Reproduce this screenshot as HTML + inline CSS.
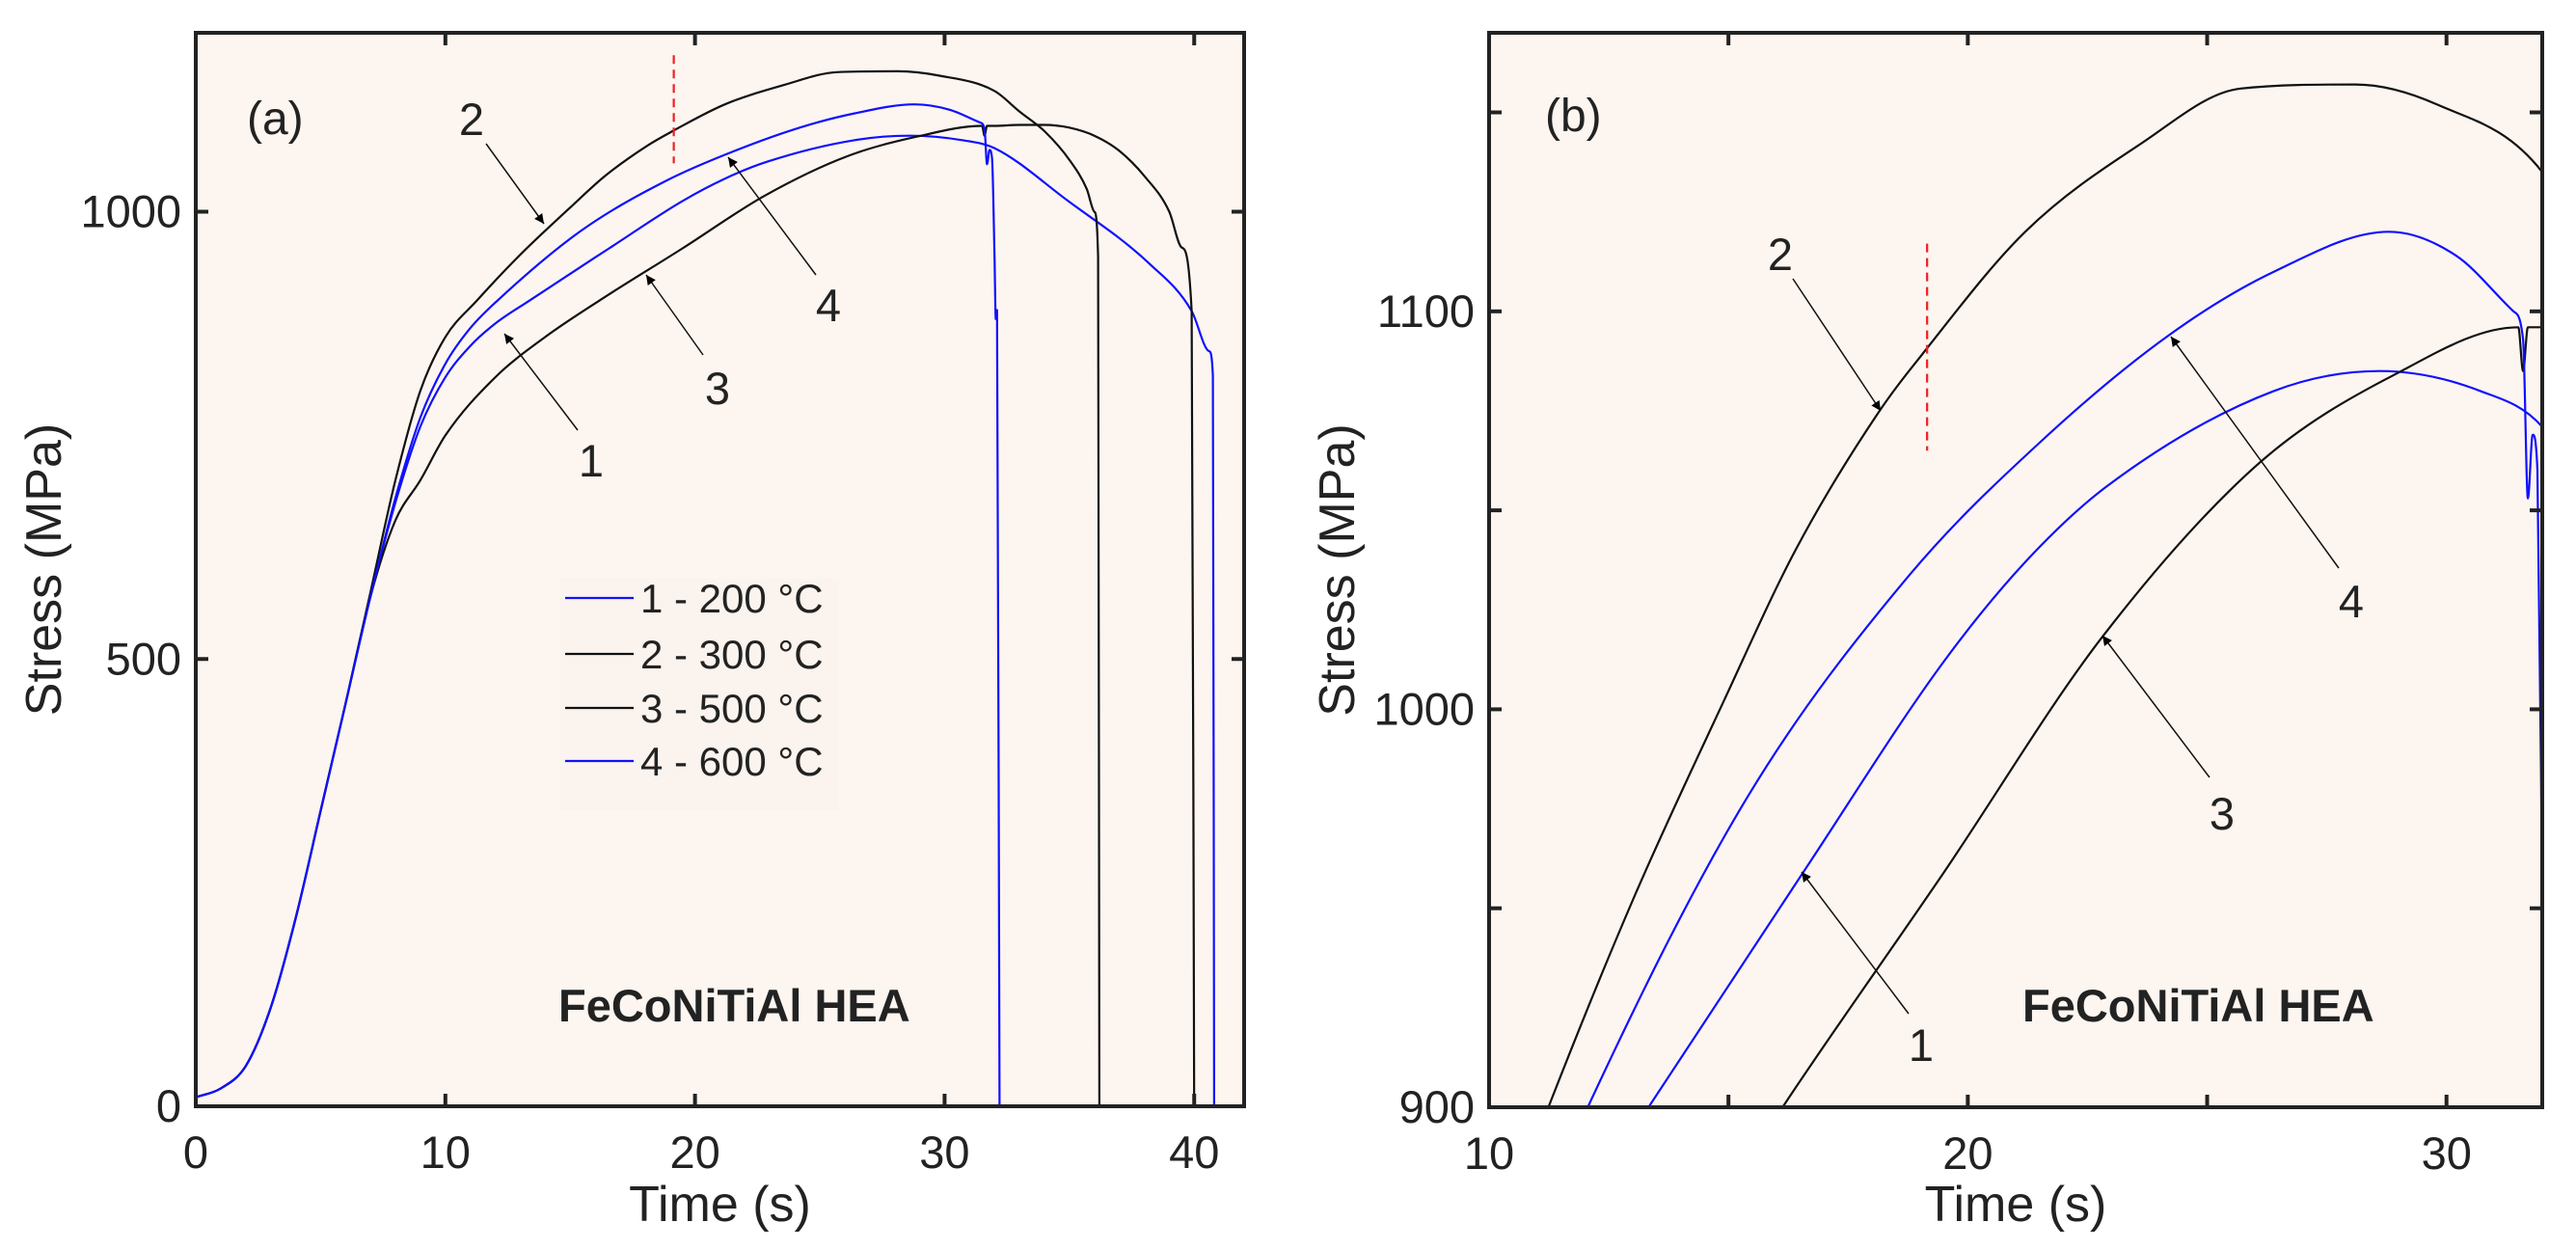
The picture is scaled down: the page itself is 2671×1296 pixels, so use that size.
<!DOCTYPE html>
<html><head><meta charset="utf-8"><style>
html,body{margin:0;padding:0;background:#fff;overflow:hidden;width:2671px;height:1296px;}
svg{display:block;overflow:hidden;}
svg text{font-family:"Liberation Sans",Arial,sans-serif;fill:#222;}
</style></head><body>
<svg id="chart" width="2671" height="1296" viewBox="0 0 2671 1296" xmlns="http://www.w3.org/2000/svg">
<defs>
<marker id="ah" viewBox="0 0 10 10" refX="10" refY="5" markerWidth="10" markerHeight="10" markerUnits="userSpaceOnUse" orient="auto"><path d="M0,0 L10,5 L0,10 Z" fill="#000"/></marker>
<clipPath id="clipA"><rect x="203" y="34" width="1087" height="1113"/></clipPath>
<clipPath id="clipB"><rect x="1544" y="34" width="1092" height="1114"/></clipPath>
</defs>
<g id="panelA"></g>
<g id="panelB"></g>
</svg>
<script>
const t1 = [0,1,2,3,4,5,6,7,8,9,10,11,12,13.33,16.56,19.5,21.2,22.9,26.4,28.6,30.7,32,34.9,38.2,39.9,40.6,40.75,40.8];
const s1 = [10,20,45,110,210,330,450,570,675,760,815,850,875,900,959,1012,1037,1056,1080,1085,1080,1071,1013,942,889,844,817,0];
const t2 = [0,1,2,3,4,5,6,7,8,9,10,11.24,13,14.9,16.4,18.1,19.1,21.2,23.6,25.7,28.1,29.8,32,33,34,35,35.7,36.0,36.15,36.2];
const s2 = [10,20,45,110,210,330,450,575,700,800,860,900,952,1002,1040,1074,1090,1120,1142,1156,1157,1152,1135,1112,1090,1058,1025,1000,950,0];
const t3 = [0,1,2,3,4,5,6,7,8,9,10,12,14,16.13,19.5,22.8,26.1,28.9,31.5,31.6,31.7,32,33,34,35,36,37,38,39,39.5,39.9,40.0];
const s3 = [10,20,45,110,210,330,450,570,655,700,750,815,860,900,959,1018,1062,1084,1096,1085,1096,1096,1097,1097,1094,1085,1068,1040,1000,960,889,0];
const t4 = [0,1,2,3,4,5,6,7,8,9,10,11,12.06,15.4,18.8,21.5,24.2,26.4,28.8,30.2,31.4,31.6,31.7,31.8,31.9,32.0,32.05,32.1,32.2];
const s4 = [10,20,45,110,210,330,450,570,680,770,830,870,900,978,1034,1067,1094,1110,1120,1114,1100,1093,1053,1069,1060,950,880,890,0];
const legendLabels = ["1 - 200 °C","2 - 300 °C","3 - 500 °C","4 - 600 °C"];
const xTicksA = [0,10,20,30,40];
const yTicksA = [0,500,1000];
const xTicksB = [10,15,20,25,30];
const xLabelsB = [10,20,30];
const yTicksB = [900,950,1000,1050,1100,1150];
const yLabelsB = [900,1000,1100];
const redLineT = 19.15;

const NS = "http://www.w3.org/2000/svg";
function mk(tag, attrs, parent){const e=document.createElementNS(NS,tag);for(const k in attrs)e.setAttribute(k,attrs[k]);parent.appendChild(e);return e;}

function monoPath(px, py){
  const n = px.length;
  const d = [], m = new Array(n);
  for(let i=0;i<n-1;i++) d.push((py[i+1]-py[i])/((px[i+1]-px[i])||1e-6));
  m[0]=d[0]; m[n-1]=d[n-2];
  for(let i=1;i<n-1;i++){ m[i] = (d[i-1]*d[i] <= 0) ? 0 : (d[i-1]+d[i])/2; }
  for(let i=0;i<n-1;i++){
    if(d[i]===0){m[i]=0;m[i+1]=0;continue;}
    const a=m[i]/d[i], b=m[i+1]/d[i], h=a*a+b*b;
    if(h>9){const tt=3/Math.sqrt(h); m[i]=tt*a*d[i]; m[i+1]=tt*b*d[i];}
  }
  let p = "M"+px[0].toFixed(1)+","+py[0].toFixed(1);
  for(let i=0;i<n-1;i++){
    const h=(px[i+1]-px[i])/3;
    p += " C"+(px[i]+h).toFixed(1)+","+(py[i]+m[i]*h).toFixed(1)+" "+(px[i+1]-h).toFixed(1)+","+(py[i+1]-m[i+1]*h).toFixed(1)+" "+px[i+1].toFixed(1)+","+py[i+1].toFixed(1);
  }
  return p;
}

const series = [
 {t:t1,s:s1,c:"#1010ff",n:"curve-1-200c"},
 {t:t2,s:s2,c:"#111",n:"curve-2-300c"},
 {t:t3,s:s3,c:"#111",n:"curve-3-500c"},
 {t:t4,s:s4,c:"#1010ff",n:"curve-4-600c"}
];

function panel(g, box, xr, yr, xt, xl, yt, yl, clip, red, label, ann, legend){
  const X = v => box.x + (v - xr[0]) / (xr[1] - xr[0]) * box.w;
  const Y = v => box.y + box.h - (v - yr[0]) / (yr[1] - yr[0]) * box.h;
  const bg = mk("rect",{x:box.x,y:box.y,width:box.w,height:box.h,fill:"#fcf5f0"},g);
  
  
  const cg = mk("g",{"clip-path":"url(#"+clip+")"},g);
  series.forEach(sr=>{
    const px = sr.t.map(X), py = sr.s.map(Y);
    const pl = mk("path",{d:monoPath(px,py),fill:"none",stroke:sr.c,"stroke-width":2.2,"stroke-linejoin":"round"},cg);
    
    
  });
  const rl = mk("line",{x1:X(redLineT),x2:X(redLineT),y1:Y(red[0]),y2:Y(red[1]),stroke:"#ee2020","stroke-width":2.2,"stroke-dasharray":"9,6"},cg);
  
  
  xt.forEach(v=>{
    mk("line",{x1:X(v),x2:X(v),y1:box.y+box.h,y2:box.y+box.h-13,stroke:"#222","stroke-width":4},g);
    mk("line",{x1:X(v),x2:X(v),y1:box.y,y2:box.y+13,stroke:"#222","stroke-width":4},g);
  });
  xl.forEach(v=>{
    const tx = mk("text",{x:X(v),y:box.y+box.h+64,"font-size":47,"text-anchor":"middle"},g);
    tx.textContent = v;
    
    
  });
  yt.forEach(v=>{
    mk("line",{x1:box.x,x2:box.x+13,y1:Y(v),y2:Y(v),stroke:"#222","stroke-width":4},g);
    mk("line",{x1:box.x+box.w,x2:box.x+box.w-13,y1:Y(v),y2:Y(v),stroke:"#222","stroke-width":4},g);
  });
  yl.forEach(v=>{
    const tx = mk("text",{x:box.x-15,y:Y(v)+16,"font-size":47,"text-anchor":"end"},g);
    tx.textContent = v;
    
    
  });
  const fr = mk("rect",{x:box.x,y:box.y,width:box.w,height:box.h,fill:"none",stroke:"#222","stroke-width":4},g);
  
  
  const xtl = mk("text",{x:box.x+box.w/2,y:1266,"font-size":52,"text-anchor":"middle"},g);
  xtl.textContent = "Time (s)";
  
  
  const ytl = mk("text",{x:0,y:0,"font-size":52,"text-anchor":"middle",transform:"translate("+(box.x-140)+","+(box.y+box.h/2)+") rotate(-90)"},g);
  ytl.textContent = "Stress (MPa)";
  
  
  const pl = mk("text",{x:label[1],y:label[2],"font-size":48},g);
  pl.textContent = label[0];
  
  
  const hea = mk("text",{x:label[3],y:1059,"font-size":47,"font-weight":"bold",fill:"#000"},g);
  hea.textContent = "FeCoNiTiAl HEA";
  
  
  ann.forEach(a=>{
    const al = mk("line",{x1:a[3],y1:a[4],x2:a[5],y2:a[6],stroke:"#111","stroke-width":1.5,"marker-end":"url(#ah)"},g);
    
    
    const at = mk("text",{x:a[1],y:a[2]+16,"font-size":47,"text-anchor":"middle",fill:"#000"},g);
    at.textContent = a[0];
    
    
  });
  if(legend){
    const lg = mk("g",{},g);
    
    
    mk("rect",{x:580,y:600,width:290,height:240,fill:"#faf3ee"},lg);
    const ly=[620,678,734,789];
    series.forEach((sr,i)=>{
      const le = mk("g",{},lg);
      
      
      mk("line",{x1:586,x2:657,y1:ly[i],y2:ly[i],stroke:sr.c,"stroke-width":2.2},le);
      const lt = mk("text",{x:664,y:ly[i]+15,"font-size":42},le);
      lt.textContent = legendLabels[i];
    });
  }
}

panel(document.getElementById("panelA"),{x:203,y:34,w:1087,h:1113},[0,42],[0,1200],
  xTicksA,xTicksA,yTicksA,yTicksA,"clipA",[1175,1054],["(a)",256,139,579],
  [["2",489,124,504,149,564,232],["4",859,317,846,285,755,163],["3",744,403,729,368,670,285],["1",613,478,599,446,523,346]],true);
panel(document.getElementById("panelB"),{x:1544,y:34,w:1092,h:1114},[10,32],[900,1170],
  xTicksB,xLabelsB,yTicksB,yLabelsB,"clipB",[1117,1065],["(b)",1602,136,2097],
  [["2",1846,264,1859,289,1950,426],["4",2438,624,2425,589,2251,349],["3",2304,844,2291,806,2180,659],["1",1992,1084,1979,1051,1868,904]],false);
</script>
</body></html>
